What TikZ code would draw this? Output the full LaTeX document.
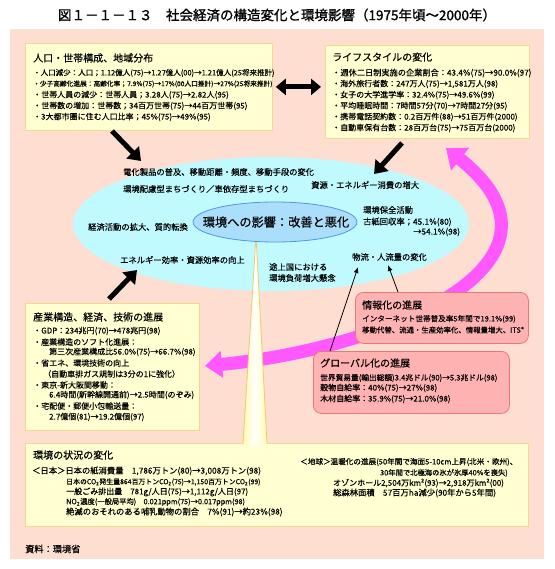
\documentclass[tikz,border=0pt]{standalone}
\usepackage{fontspec}
\setmainfont{Noto Sans CJK JP}[FakeBold=0.3]
\newfontfamily\headfont{Noto Sans CJK JP}[FakeBold=1.2]
\usetikzlibrary{arrows.meta, shapes.geometric, positioning, calc}

\definecolor{bgpink}{RGB}{253,222,208}
\definecolor{boxfill}{RGB}{255,255,210}
\definecolor{boxline}{RGB}{244,214,140}
\definecolor{cyanfill}{RGB}{192,250,255}
\definecolor{innerfill}{RGB}{170,222,250}
\definecolor{innerline}{RGB}{80,150,230}
\definecolor{infofill}{RGB}{255,178,178}
\definecolor{infoline}{RGB}{232,120,120}
\definecolor{bandpink}{RGB}{255,88,255}
\definecolor{spikefill}{RGB}{255,250,170}
\definecolor{spikeline}{RGB}{240,200,110}

\newcommand{\fs}[1]{\fontsize{#1}{#1}\selectfont}

\begin{document}
\begin{tikzpicture}[
    x=1pt, y=-1pt,
    ybox/.style={draw=boxline, fill=boxfill, line width=0.8pt, anchor=north west, inner sep=0pt},
    ibox/.style={draw=infoline, fill=infofill, line width=0.8pt, rounded corners=8pt, anchor=north west, inner sep=0pt},
    boxtitle/.style={anchor=west, inner sep=0pt, font=\fs{10}},
    item/.style={anchor=west, inner sep=0pt, font=\fs{8}},
    midlabel/.style={anchor=west, inner sep=0pt, font=\fs{8.3}},
    bigarrow/.style={line width=5pt, -{Triangle[width=17pt,length=12pt]}},
    dblarrow/.style={line width=5pt, {Triangle[width=16pt,length=10pt]}-{Triangle[width=16pt,length=10pt]}},
    thinarrow/.style={line width=0.8pt, -{Latex[length=6pt,width=5pt]}},
    flowband/.style={draw=bandpink, line width=13pt, {Triangle[width=26pt,length=17pt]}-{Triangle[width=28pt,length=18pt]}}
]
    \useasboundingbox (0,0) rectangle (554,569);
    \fill[white] (0,0) rectangle (554,569);

    % title and background
    \node[inner sep=0pt, font=\fs{13.5}\headfont] (title) at (277,15) {図１－１－１３　社会経済の構造変化と環境影響（1975年頃～2000年）};
    \fill[bgpink] (10,29) rectangle (544,559);

    % central ellipse and the band round it
    \fill[cyanfill] (271,224) ellipse (198pt and 67pt);
    \draw[flowband] (205,366) .. controls (390,348) and (590,262) .. (446,148);

    % bottom box first, so the spike runs into it
    \node[ybox, minimum width=503pt, minimum height=83pt] (envbox) at (25,443) {};
    \shade[left color=spikefill, right color=spikefill, middle color=white] (256,236) -- (243,445) -- (267,445) -- cycle;
    \draw[spikeline, line width=0.8pt] (243,443.4) -- (256,236) -- (267,443.4);

    \filldraw[draw=innerline, fill=innerfill, line width=0.8pt] (275,222) ellipse (82pt and 20pt);
    \node[inner sep=0pt, font=\fs{12.2}] (impact) at (276,222) {環境への影響：改善と悪化};

    % boxes
    \node[ybox, minimum width=247pt, minimum height=87pt] (popbox) at (25,43) {};
    \node[ybox, minimum width=204pt, minimum height=93pt] (lifebox) at (325,45) {};
    \node[ybox, minimum width=174pt, minimum height=127pt] (indbox) at (25,303) {};
    \node[ibox, minimum width=173pt, minimum height=51pt] (infobox) at (355,292) {};
    \node[ibox, minimum width=196pt, minimum height=62pt] (globbox) at (313,351) {};

    % population
    \node[boxtitle] (poptitle) at (33,58) {人口・世帯構成、地域分布};
    \node[item, font=\fs{7.5}] (pop1) at (33,73) {・人口減少：人口；1.12億人(75)→1.27億人(00)→1.21億人(25将来推計)};
    \node[item, font=\fs{6.7}] (pop2) at (33,84) {・少子高齢化進展：高齢化率；7.9\%(75)→17\%(00人口推計)→27\%(25将来推計)};
    \node[item] (pop3) at (33,95) {・世帯人員の減少：世帯人員；3.28人(75)→2.82人(95)};
    \node[item] (pop4) at (33,106) {・世帯数の増加：世帯数；34百万世帯(75)→44百万世帯(95)};
    \node[item] (pop5) at (33,117) {・3大都市圏に住む人口比率；45\%(75)→49\%(95)};

    % lifestyle
    \node[boxtitle] (lifetitle) at (332,57) {ライフスタイルの変化};
    \node[item, font=\fs{8.2}] (life1) at (332,73) {・週休二日制実施の企業割合：43.4\%(75)→90.0\%(97)};
    \node[item] (life2) at (332,84) {・海外旅行者数：247万人(75)→1,581万人(98)};
    \node[item] (life3) at (332,95) {・女子の大学進学率：32.4\%(75)→49.6\%(99)};
    \node[item] (life4) at (332,106) {・平均睡眠時間：7時間57分(70)→7時間27分(95)};
    \node[item] (life5) at (332,117) {・携帯電話契約数：0.2百万件(88)→51百万件(2000)};
    \node[item] (life6) at (332,128) {・自動車保有台数：28百万台(75)→75百万台(2000)};

    % industry
    \node[boxtitle] (indtitle) at (33,317) {産業構造、経済、技術の進展};
    \node[item] (ind1) at (33,331) {・GDP：234兆円(70)→478兆円(98)};
    \node[item] (ind2) at (33,342) {・産業構造のソフト化進展：};
    \node[item] (ind3) at (49,352) {第三次産業構成比56.0\%(75)→66.7\%(98)};
    \node[item] (ind4) at (33,363) {・省エネ、環境技術の向上};
    \node[item] (ind5) at (43,374) {（自動車排ガス規制は3分の1に強化）};
    \node[item] (ind6) at (33,385) {・東京-新大阪間移動：};
    \node[item] (ind7) at (49,395) {6.4時間(新幹線開通前)→2.5時間(のぞみ)};
    \node[item] (ind8) at (33,406) {・宅配便・郵便小包輸送量：};
    \node[item] (ind9) at (49,417) {2.7億個(81)→19.2億個(97)};

    % information and globalisation
    \node[boxtitle] (infotitle) at (362,305) {情報化の進展};
    \node[item, font=\fs{7.6}] (info1) at (362,319) {インターネット世帯普及率5年間で19.1\%(99)};
    \node[item, font=\fs{7.4}] (info2) at (362,330) {移動代替、流通・生産効率化、情報量増大、ITS*};
    \node[boxtitle] (globtitle) at (320,363) {グローバル化の進展};
    \node[item, font=\fs{7.7}] (glob1) at (320,378) {世界貿易量(輸出総額)3.4兆ドル(90)→5.3兆ドル(98)};
    \node[item] (glob2) at (320,388) {穀物自給率：40\%(75)→27\%(98)};
    \node[item] (glob3) at (320,399) {木材自給率：35.9\%(75)→21.0\%(98)};

    % environment
    \node[boxtitle] (envtitle) at (33,455) {環境の状況の変化};
    \node[item, font=\fs{8.3}] (env1) at (32,471) {＜日本＞日本の紙消費量　1,786万トン(80)→3,008万トン(98)};
    \node[item, font=\fs{6.9}] (env2) at (66,482) {日本のCO\textsubscript{2}発生量864百万トンCO\textsubscript{2}(75)→1,150百万トンCO\textsubscript{2}(99)};
    \node[item] (env3) at (66,492) {一般ごみ排出量　781g/人日(75)→1,112g/人日(97)};
    \node[item, font=\fs{7.3}] (env4) at (66,502) {NO\textsubscript{2}濃度(一般局平均)　0.021ppm(75)→0.017ppm(98)};
    \node[item, font=\fs{8.3}] (env5) at (66,512) {絶滅のおそれのある哺乳動物の割合　7\%(91)→約23\%(98)};
    \node[item, font=\fs{7.6}] (earth1) at (300,462) {＜地球＞温暖化の進展(50年間で海面5-10cm上昇(北米・欧州)、};
    \node[item, font=\fs{7.3}] (earth2) at (380,473) {30年間で北極海の氷が氷厚40\%を喪失)};
    \node[item] (earth3) at (333,483) {オゾンホール2,504万km²(93)→2,918万km²(00)};
    \node[item, font=\fs{8.3}] (earth4) at (333,493) {総森林面積　57百万ha減少(90年から5年間)};

    % labels round the impact
    \node[midlabel] (appliance) at (123,172) {電化製品の普及、移動距離・頻度、移動手段の変化};
    \node[midlabel] (town) at (123,189) {環境配慮型まちづくり／車依存型まちづくり};
    \node[midlabel] (resource) at (311,185) {資源・エネルギー消費の増大};
    \node[midlabel] (conserve) at (363,210) {環境保全活動};
    \node[midlabel] (paper1) at (363,222) {古紙回収率；45.1\%(80)};
    \node[midlabel] (paper2) at (413,232) {→54.1\%(98)};
    \node[midlabel] (economy) at (88,227) {経済活動の拡大、質的転換};
    \node[midlabel] (efficiency) at (120,260) {エネルギー効率・資源効率の向上};
    \node[midlabel] (develop1) at (269,267) {途上国における};
    \node[midlabel] (develop2) at (269,278) {環境負荷増大懸念};
    \node[midlabel] (flow) at (352,257) {物流・人流量の変化};

    % black arrows
    \coordinate (popfoot) at (112,131);
    \coordinate (popaim) at (141,161);
    \coordinate (lifefoot) at (402,143);
    \coordinate (lifeaim) at (374,174);
    \coordinate (indfoot) at (109,299);
    \coordinate (indaim) at (137,270);
    \draw[bigarrow] (popfoot) -- (popaim);
    \draw[bigarrow] (lifefoot) -- (lifeaim);
    \draw[bigarrow] (indfoot) -- (indaim);
    \draw[dblarrow] ([xshift=3pt]popbox.east) -- ($(lifebox.west |- popbox.east)+(-4,0)$);

    \draw[thinarrow] ([xshift=43pt]infobox.north west) -- ([xshift=36pt,yshift=-4pt]flow.south west);
    \draw[thinarrow] ([xshift=17pt]globbox.north west) -- ([xshift=6pt,yshift=-6pt]flow.south west);

    % source
    \node[anchor=west, inner sep=0pt, font=\fs{9.2}] (source) at (25,549) {資料：環境省};
\end{tikzpicture}
\end{document}
